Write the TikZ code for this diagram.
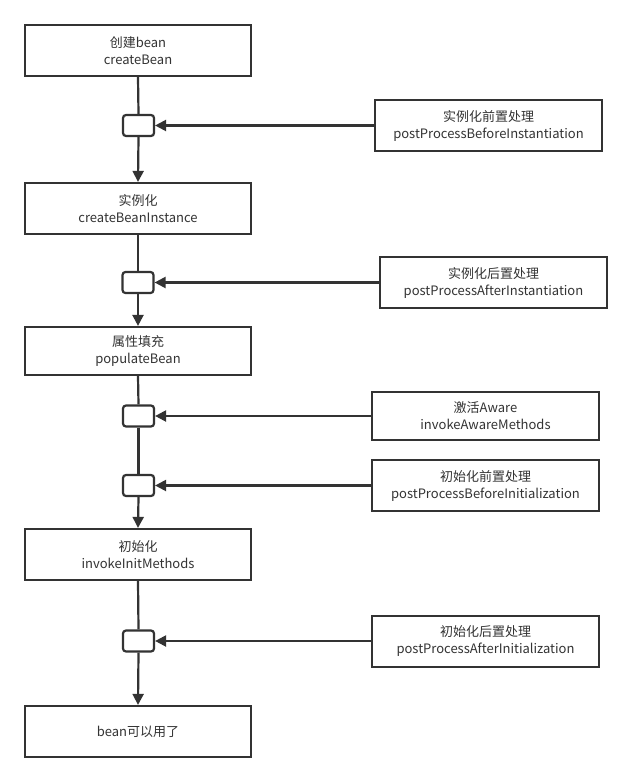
\documentclass[tikz,border=0pt]{standalone}
\usepackage{fontspec}
\setmainfont{Noto Sans CJK SC}
\usetikzlibrary{arrows.meta}
\definecolor{ln}{HTML}{333333}
\definecolor{tx}{HTML}{333333}
\begin{document}
\begin{tikzpicture}[x=1pt,y=-1pt,
  box/.style={draw=ln,line width=2.2pt,fill=white,minimum width=226pt,minimum height=51pt,
    align=center,font=\fontsize{13}{17}\selectfont,text=tx,inner sep=0pt},
  pbox/.style={box,minimum width=227pt},
  joint/.style={draw=ln,line width=2.2pt,rounded corners=3pt,minimum width=31pt,minimum height=21pt,inner sep=0pt,fill=white},
  link/.style={draw=ln,line width=2.2pt},
  arr/.style={link,-{Triangle[length=11pt,width=11pt]}}
]
\useasboundingbox (0,0) rectangle (631,781);
\fill[white] (0,0) rectangle (631,781);
% main column
\node[box] (b1) at (138,50.5) {创建bean\\createBean};
\node[box] (b2) at (138,208.5) {实例化\\createBeanInstance};
\node[box,minimum height=48pt] (b3) at (138,351) {属性填充\\populateBean};
\node[box] (b4) at (138,554.5) {初始化\\invokeInitMethods};
\node[box] (b5) at (138,731.5) {bean可以用了};
% joints
\node[joint] (j1) at (138.5,125.5) {};
\node[joint] (j2) at (138,282.5) {};
\node[joint] (j3) at (138.5,416) {};
\node[joint] (j4) at (138.5,485.5) {};
\node[joint] (j5) at (138.5,641) {};
% right boxes
\node[pbox] (r1) at (488.5,125.5) {实例化前置处理\\postProcessBeforeInstantiation};
\node[pbox] (r2) at (493.5,282.5) {实例化后置处理\\postProcessAfterInstantiation};
\node[pbox,minimum height=48pt] (r3) at (485.5,416) {激活Aware\\invokeAwareMethods};
\node[pbox] (r4) at (485.5,485.5) {初始化前置处理\\postProcessBeforeInitialization};
\node[pbox] (r5) at (485.5,641.5) {初始化后置处理\\postProcessAfterInitialization};
% vertical flow
\draw[link] (b1.south) -- (j1.north);
\draw[arr] (j1.south) -- (b2.north);
\draw[link] (b2.south) -- (j2.north);
\draw[arr] (j2.south) -- (b3.north);
\draw[link] (b3.south) -- (j3.north);
\draw[link] (j3.south) -- (j4.north);
\draw[arr] (j4.south) -- (b4.north);
\draw[link] (b4.south) -- (j5.north);
\draw[arr] (j5.south) -- (b5.north);
% horizontal
\draw[arr] (r1.west) -- (j1.east);
\draw[arr] (r2.west) -- (j2.east);
\draw[arr] (r3.west) -- (j3.east);
\draw[arr] (r4.west) -- (j4.east);
\draw[arr] (r5.west |- j5.east) -- (j5.east);
\end{tikzpicture}
\end{document}
